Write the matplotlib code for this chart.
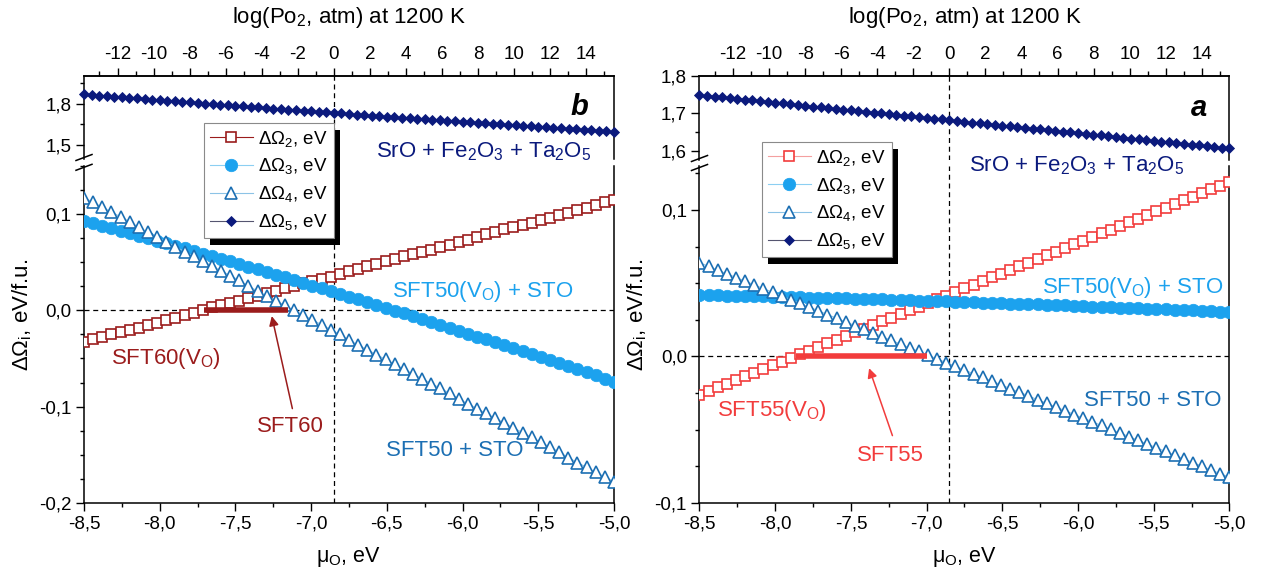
import numpy as np
import matplotlib
matplotlib.use('Agg')
import matplotlib.pyplot as plt
from matplotlib.lines import Line2D
from matplotlib.patches import Rectangle
from matplotlib.ticker import MultipleLocator, FuncFormatter

plt.rcParams['font.family'] = ['Liberation Sans', 'DejaVu Sans']
plt.rcParams['mathtext.fontset'] = 'custom'
plt.rcParams['mathtext.rm'] = 'Liberation Sans'
plt.rcParams['mathtext.default'] = 'regular'

# ---- data (mu_O range -8.5 ... -5.0 eV) ----
mu_lim = [-8.5, -5.0]
mu_zero = -6.85          # log(Po2) = 0 at 1200 K
kT_ln10_half = 0.119053  # eV per decade of Po2 at 1200 K

# panel b (left)
b_dO2 = [-0.033, -0.030, -0.028, -0.025, -0.023, -0.020, -0.018, -0.015, -0.013, -0.010,
         -0.008, -0.005, -0.003, 0.000, 0.003, 0.005, 0.008, 0.010, 0.013, 0.015,
         0.018, 0.020, 0.023, 0.025, 0.028, 0.030, 0.033, 0.035, 0.038, 0.041,
         0.043, 0.046, 0.048, 0.051, 0.053, 0.056, 0.058, 0.061, 0.063, 0.066,
         0.068, 0.071, 0.073, 0.076, 0.079, 0.081, 0.084, 0.086, 0.089, 0.091,
         0.094, 0.096, 0.099, 0.101, 0.104, 0.106, 0.109, 0.112, 0.114]
b_dO3 = [0.0930, 0.0905, 0.0879, 0.0853, 0.0827, 0.0801, 0.0775, 0.0749, 0.0722, 0.0696,
         0.0669, 0.0642, 0.0616, 0.0589, 0.0562, 0.0534, 0.0507, 0.0480, 0.0452, 0.0425,
         0.0397, 0.0369, 0.0341, 0.0313, 0.0285, 0.0257, 0.0228, 0.0200, 0.0171, 0.0142,
         0.0113, 0.0084, 0.0055, 0.0026, -0.0003, -0.0033, -0.0062, -0.0092, -0.0121, -0.0151,
         -0.0181, -0.0211, -0.0242, -0.0272, -0.0302, -0.0333, -0.0364, -0.0394, -0.0425, -0.0456,
         -0.0487, -0.0519, -0.0550, -0.0581, -0.0613, -0.0645, -0.0676, -0.0708, -0.0740]
b_dO4 = [0.117, 0.112, 0.107, 0.102, 0.097, 0.092, 0.086, 0.081, 0.076, 0.071,
         0.066, 0.061, 0.056, 0.051, 0.046, 0.041, 0.036, 0.031, 0.025, 0.020,
         0.015, 0.010, 0.005, 0.000, -0.005, -0.010, -0.015, -0.020, -0.025, -0.031,
         -0.036, -0.041, -0.046, -0.051, -0.056, -0.061, -0.066, -0.071, -0.076, -0.081,
         -0.086, -0.092, -0.097, -0.102, -0.107, -0.112, -0.117, -0.122, -0.127, -0.132,
         -0.137, -0.142, -0.147, -0.153, -0.158, -0.163, -0.168, -0.173, -0.178]
b_dO5 = [1.868, 1.864, 1.859, 1.855, 1.851, 1.847, 1.843, 1.838, 1.834, 1.830,
         1.826, 1.822, 1.817, 1.813, 1.809, 1.805, 1.801, 1.797, 1.793, 1.789,
         1.785, 1.781, 1.777, 1.773, 1.769, 1.765, 1.761, 1.757, 1.753, 1.749,
         1.745, 1.741, 1.737, 1.733, 1.729, 1.725, 1.721, 1.718, 1.714, 1.710,
         1.706, 1.702, 1.698, 1.695, 1.691, 1.687, 1.683, 1.680, 1.676, 1.672,
         1.669, 1.665, 1.661, 1.658, 1.654, 1.650, 1.647, 1.643, 1.639, 1.636,
         1.632, 1.629, 1.625, 1.622, 1.618, 1.615, 1.611, 1.608, 1.604, 1.601, 1.597]
b_phase = [-7.71, -7.15]   # SFT60 stability window

# panel a (right)
a_dO2 = [-0.0260, -0.0235, -0.0210, -0.0185, -0.0160, -0.0135, -0.0110, -0.0085, -0.0060, -0.0035,
         -0.0010, 0.0015, 0.0040, 0.0065, 0.0090, 0.0115, 0.0140, 0.0165, 0.0190, 0.0215,
         0.0240, 0.0265, 0.0290, 0.0315, 0.0340, 0.0365, 0.0390, 0.0415, 0.0440, 0.0465,
         0.0490, 0.0515, 0.0540, 0.0565, 0.0590, 0.0615, 0.0640, 0.0665, 0.0690, 0.0715,
         0.0740, 0.0765, 0.0790, 0.0815, 0.0840, 0.0865, 0.0890, 0.0915, 0.0940, 0.0965,
         0.0990, 0.1015, 0.1040, 0.1065, 0.1090, 0.1115, 0.1140, 0.1165, 0.1190]
a_dO3 = [0.0420, 0.0419, 0.0417, 0.0416, 0.0415, 0.0413, 0.0412, 0.0410, 0.0409, 0.0407,
         0.0406, 0.0404, 0.0402, 0.0401, 0.0399, 0.0398, 0.0396, 0.0394, 0.0392, 0.0391,
         0.0389, 0.0387, 0.0385, 0.0383, 0.0381, 0.0380, 0.0378, 0.0376, 0.0374, 0.0372,
         0.0370, 0.0368, 0.0366, 0.0363, 0.0361, 0.0359, 0.0357, 0.0355, 0.0353, 0.0350,
         0.0348, 0.0346, 0.0343, 0.0341, 0.0339, 0.0336, 0.0334, 0.0331, 0.0329, 0.0327,
         0.0324, 0.0321, 0.0319, 0.0316, 0.0314, 0.0311, 0.0308, 0.0306, 0.0303]
a_dO4 = [0.0640, 0.0615, 0.0589, 0.0564, 0.0539, 0.0514, 0.0488, 0.0463, 0.0438, 0.0413,
         0.0387, 0.0362, 0.0337, 0.0312, 0.0286, 0.0261, 0.0236, 0.0211, 0.0185, 0.0160,
         0.0135, 0.0110, 0.0084, 0.0059, 0.0034, 0.0009, -0.0017, -0.0042, -0.0067, -0.0093,
         -0.0118, -0.0143, -0.0168, -0.0194, -0.0219, -0.0244, -0.0269, -0.0295, -0.0320, -0.0345,
         -0.0370, -0.0396, -0.0421, -0.0446, -0.0471, -0.0497, -0.0522, -0.0547, -0.0572, -0.0598,
         -0.0623, -0.0648, -0.0673, -0.0699, -0.0724, -0.0749, -0.0775, -0.0800, -0.0825]
a_dO5 = [1.749, 1.747, 1.745, 1.743, 1.741, 1.739, 1.737, 1.735, 1.733, 1.731,
         1.729, 1.727, 1.724, 1.722, 1.720, 1.718, 1.716, 1.714, 1.712, 1.710,
         1.708, 1.706, 1.704, 1.702, 1.700, 1.698, 1.696, 1.694, 1.692, 1.690,
         1.688, 1.686, 1.684, 1.682, 1.680, 1.677, 1.675, 1.673, 1.671, 1.669,
         1.667, 1.665, 1.663, 1.661, 1.659, 1.657, 1.655, 1.653, 1.651, 1.649,
         1.647, 1.645, 1.643, 1.641, 1.639, 1.637, 1.635, 1.632, 1.630, 1.628,
         1.626, 1.624, 1.622, 1.620, 1.618, 1.616, 1.614, 1.612, 1.610, 1.608, 1.606]
a_phase = [-7.86, -7.00]   # SFT55 stability window

legend_labels = ['ΔΩ$_2$, eV', 'ΔΩ$_3$, eV', 'ΔΩ$_4$, eV', 'ΔΩ$_5$, eV']

c_dark_red = '#9B1C1C'
c_red = '#F23C3C'
c_light = '#1CA2EE'
c_blue = '#1C6FB3'
c_navy = '#0B1A7D'

W, H = 1270, 578
fig = plt.figure(figsize=(W / 100, H / 100), dpi=100)


def add_ax(l, t, r, b):
    return fig.add_axes([l / W, 1 - b / H, (r - l) / W, (b - t) / H])


def comma(v, pos):
    if abs(v) < 1e-9:
        v = 0.0
    return f'{v:.1f}'.replace('.', ',')


def to_log(mu):
    return (np.asarray(mu) - mu_zero) / kT_ln10_half


def to_mu(lg):
    return np.asarray(lg) * kT_ln10_half + mu_zero


def style(ax):
    for s in ax.spines.values():
        s.set_linewidth(1.1)
    ax.tick_params(which='both', direction='out', width=1.0, labelsize=13.5, right=False)
    ax.tick_params(which='major', length=5.5)
    ax.tick_params(which='minor', length=3)


def draw_panel(box, lo_lim, up_lim, up_major, up_minor, d2, d3, d4, d5, c2, phase,
               line2, leg_pos):
    left, right, top, up_bot, lo_top, bottom = box
    ax_up = add_ax(left, top, right, up_bot)
    ax_lo = add_ax(left, lo_top, right, bottom)

    for ax in (ax_up, ax_lo):
        style(ax)
        ax.set_xlim(mu_lim)
        ax.axvline(mu_zero, color='black', lw=0.9, ls=(0, (4, 3)), zorder=1)

    ax_up.set_ylim(up_lim)
    ax_up.spines['bottom'].set_visible(False)
    ax_up.tick_params(bottom=False, labelbottom=False, top=False)
    ax_up.yaxis.set_major_locator(MultipleLocator(up_major))
    ax_up.yaxis.set_minor_locator(MultipleLocator(up_minor))
    ax_up.yaxis.set_major_formatter(FuncFormatter(comma))

    ax_lo.set_ylim(lo_lim)
    ax_lo.spines['top'].set_visible(False)
    ax_lo.tick_params(top=False)
    ax_lo.xaxis.set_major_locator(MultipleLocator(0.5))
    ax_lo.xaxis.set_minor_locator(MultipleLocator(0.25))
    ax_lo.xaxis.set_major_formatter(FuncFormatter(comma))
    ax_lo.yaxis.set_major_locator(MultipleLocator(0.1))
    ax_lo.yaxis.set_minor_locator(MultipleLocator(0.025))
    ax_lo.yaxis.set_major_formatter(FuncFormatter(comma))
    ax_lo.axhline(0, color='black', lw=0.9, ls=(0, (4, 3)), zorder=1)

    sec = ax_up.secondary_xaxis('top', functions=(to_log, to_mu))
    sec.xaxis.set_major_locator(MultipleLocator(2))
    sec.xaxis.set_minor_locator(MultipleLocator(1))
    sec.xaxis.set_major_formatter(FuncFormatter(lambda v, p: f'{v:.0f}'))
    sec.tick_params(which='both', direction='out', width=1.0, labelsize=13.5)
    sec.tick_params(which='major', length=6)
    sec.tick_params(which='minor', length=3.5)
    sec.spines['top'].set_linewidth(1.1)

    x_main = np.linspace(mu_lim[0], mu_lim[1], len(d2))
    x_d5 = np.linspace(mu_lim[0], mu_lim[1], len(d5))

    kw2 = dict(marker='s', ms=6.6, mfc='white', mec=c2, mew=1.2, color=line2, lw=0.8)
    kw3 = dict(marker='o', ms=9, mfc=c_light, mec=c_light, mew=0.5, color='#8CCFF2', lw=0.8)
    kw4 = dict(marker='^', ms=8.3, mfc='white', mec=c_blue, mew=1.2, color='#8CC3E6', lw=0.8)
    kw5 = dict(marker='D', ms=5.4, mfc=c_navy, mec=c_navy, mew=0.6, color='#555570', lw=0.8)

    ax_lo.plot(x_main, d2, zorder=3, **kw2)
    ax_lo.plot(x_main, d3, zorder=4, **kw3)
    ax_lo.plot(x_main, d4, zorder=5, **kw4)
    ax_up.plot(x_d5, d5, zorder=3, clip_on=False, **kw5)

    ax_lo.plot(phase, [0, 0], color=c2, lw=4, solid_capstyle='butt', zorder=6)

    # break marks on the left axis
    for yb in (up_bot - 1.5, lo_top + 1.5):
        fig.add_artist(Line2D([(left - 8) / W, (left + 8) / W],
                              [1 - (yb + 3) / H, 1 - (yb - 3) / H],
                              color='black', lw=1.1))

    handles = [Line2D([], [], **kw2), Line2D([], [], **kw3),
               Line2D([], [], **kw4), Line2D([], [], **kw5)]
    leg = fig.legend(handles, legend_labels, loc='upper left',
                     bbox_to_anchor=(leg_pos[0] / W, 1 - leg_pos[1] / H),
                     fontsize=13.5, frameon=True, fancybox=False, edgecolor='#8a8a8a',
                     framealpha=1, borderpad=0.3, labelspacing=0.42, handlelength=2.3,
                     handletextpad=0.3, borderaxespad=0)
    leg.get_frame().set_linewidth(0.8)
    leg.set_zorder(6)

    fig.text((left + right) / 2 / W, 1 - 17 / H, 'log(Po$_2$, atm) at 1200 K',
             ha='center', va='center', fontsize=16)
    fig.text((left + right) / 2 / W, 1 - 557 / H, 'μ$_O$, eV',
             ha='center', va='center', fontsize=15.5)
    return ax_up, ax_lo, leg


# left panel (b)
bu, bl, leg_b = draw_panel((84, 614, 76, 159, 165.8, 503), (-0.2, 0.15), (1.4, 2.0), 0.3, 0.15,
                           b_dO2, b_dO3, b_dO4, b_dO5, c_dark_red, b_phase, c_dark_red, (204, 123))
# right panel (a)
au, al, leg_a = draw_panel((699.5, 1229.5, 76, 160, 166, 503), (-0.1, 0.13), (1.575, 1.8), 0.1, 0.05,
                           a_dO2, a_dO3, a_dO4, a_dO5, c_red, a_phase, '#F4A0A0', (762, 142))

fig.text(22 / W, 1 - 315 / H, 'ΔΩ$_i$, eV/f.u.', rotation=90, ha='center', va='center', fontsize=16)
fig.text(637 / W, 1 - 315 / H, 'ΔΩ$_i$, eV/f.u.', rotation=90, ha='center', va='center', fontsize=16)

# annotations, panel b
bu.text(-5.23, 1.776, 'b', fontsize=21, fontweight='bold', fontstyle='italic', ha='center', va='center')
bu.text(-5.86, 1.452, 'SrO + Fe$_2$O$_3$ + Ta$_2$O$_5$', color=c_navy, fontsize=16, ha='center', va='center')
bl.text(-5.87, 0.020, 'SFT50(V$_O$) + STO', color=c_light, fontsize=16, ha='center', va='center')
bl.text(-6.05, -0.146, 'SFT50 + STO', color=c_blue, fontsize=16, ha='center', va='center')
bl.text(-7.96, -0.050, 'SFT60(V$_O$)', color=c_dark_red, fontsize=16, ha='center', va='center')
bl.text(-7.14, -0.121, 'SFT60', color=c_dark_red, fontsize=16, ha='center', va='center')
bl.annotate('', xy=(-7.26, -0.006), xytext=(-7.124, -0.102),
            arrowprops=dict(arrowstyle='-|>', color=c_dark_red, lw=1.1, mutation_scale=14,
                            shrinkA=0, shrinkB=0))

# annotations, panel a
au.text(-5.20, 1.713, 'a', fontsize=21, fontweight='bold', fontstyle='italic', ha='center', va='center')
al.text(-6.01, 0.130, 'SrO + Fe$_2$O$_3$ + Ta$_2$O$_5$', color=c_navy, fontsize=16, ha='center', va='center')
al.text(-5.64, 0.047, 'SFT50(V$_O$) + STO', color=c_light, fontsize=16, ha='center', va='center')
al.text(-5.51, -0.030, 'SFT50 + STO', color=c_blue, fontsize=16, ha='center', va='center')
al.text(-8.02, -0.037, 'SFT55(V$_O$)', color=c_red, fontsize=16, ha='center', va='center')
al.text(-7.24, -0.0674, 'SFT55', color=c_red, fontsize=16, ha='center', va='center')
al.annotate('', xy=(-7.38, -0.008), xytext=(-7.226, -0.054),
            arrowprops=dict(arrowstyle='-|>', color=c_red, lw=1.1, mutation_scale=14,
                            shrinkA=0, shrinkB=0))

# black drop shadows behind the legends
fig.canvas.draw()
renderer = fig.canvas.get_renderer()
inv = fig.transFigure.inverted()
for leg in (leg_b, leg_a):
    bb = leg.get_frame().get_window_extent(renderer)
    (x0, y0), (x1, y1) = inv.transform([[bb.x0 + 6, bb.y0 - 7], [bb.x1 + 6, bb.y1 - 7]])
    fig.add_artist(Rectangle((x0, y0), x1 - x0, y1 - y0, transform=fig.transFigure,
                             facecolor='black', edgecolor='none', zorder=5.5))

fig.savefig('out.png', dpi=100)
